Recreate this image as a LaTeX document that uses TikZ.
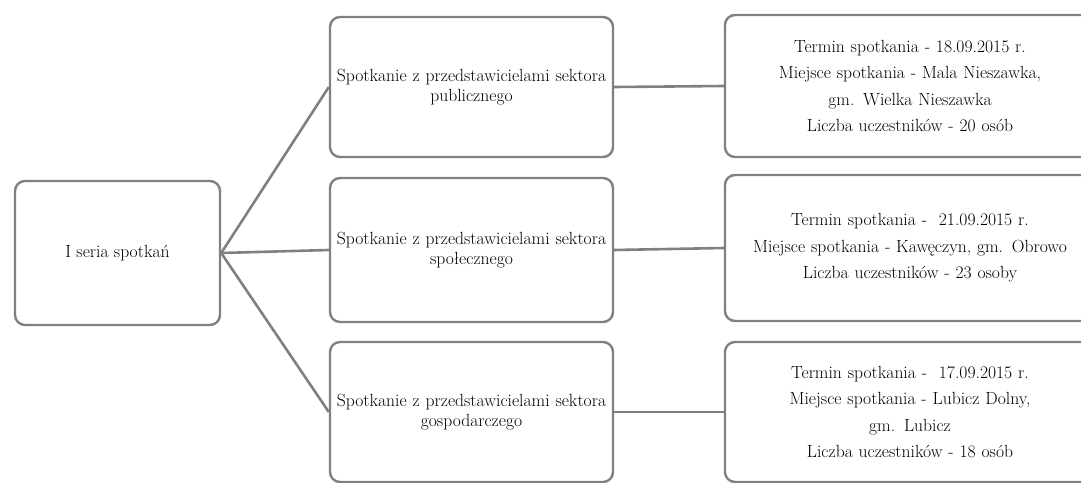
\documentclass[tikz,border=0pt]{standalone}
\usepackage{tikz}
\usetikzlibrary{positioning}

\begin{document}
\begin{tikzpicture}[x=1pt,y=-1pt]
 \tikzset{box/.style={draw=black!50,line width=2.4pt,rounded corners=10pt,fill=white,
   align=center,inner sep=0pt,font=\fontsize{17.6}{20}\selectfont},
   infobox/.style={box,minimum width=370pt,text width=360pt,font=\fontsize{17.6}{26.5}\selectfont},
   link/.style={draw=black!50,line width=2.6pt}}
 \useasboundingbox (0,0) rectangle (1081,482);
 \node[box,minimum width=205pt,minimum height=144pt] (root) at (117.5,253) {I seria spotka\'n};

 \node[box,minimum width=283pt,minimum height=140pt,text width=281pt] (pub) at (471.5,87) {Spotkanie z przedstawicielami sektora\\publicznego};
 \node[box,minimum width=283pt,minimum height=144pt,text width=281pt] (spol) at (471.5,250) {Spotkanie z przedstawicielami sektora\\spo\l{}ecznego};
 \node[box,minimum width=283pt,minimum height=140pt,text width=281pt] (gosp) at (471.5,412) {Spotkanie z przedstawicielami sektora\\gospodarczego};

 \node[infobox,minimum height=142pt] (pubinfo) at (910,86) {Termin spotkania - 18.09.2015 r.\\Miejsce spotkania - Mala Nieszawka,\\gm. Wielka Nieszawka\\Liczba uczestnik\'ow - 20 os\'ob};
 \node[infobox,minimum height=146pt] (spolinfo) at (910,248) {Termin spotkania -\ \ 21.09.2015 r.\\Miejsce spotkania - Kaw\k{e}czyn, gm. Obrowo\\Liczba uczestnik\'ow - 23 osoby};
 \node[infobox,minimum height=140pt] (gospinfo) at (910,412) {Termin spotkania -\ \ 17.09.2015 r.\\Miejsce spotkania - Lubicz Dolny,\\gm. Lubicz\\Liczba uczestnik\'ow - 18 os\'ob};

 \draw[link] (root.east) to (pub.west);
 \draw[link] (root.east) to (spol.west);
 \draw[link] (root.east) to (gosp.west);
 \draw[link] (pub.east) to (pubinfo.west);
 \draw[link] (spol.east) to (spolinfo.west);
 \draw[link] (gosp.east) to (gospinfo.west);
\end{tikzpicture}
\end{document}
